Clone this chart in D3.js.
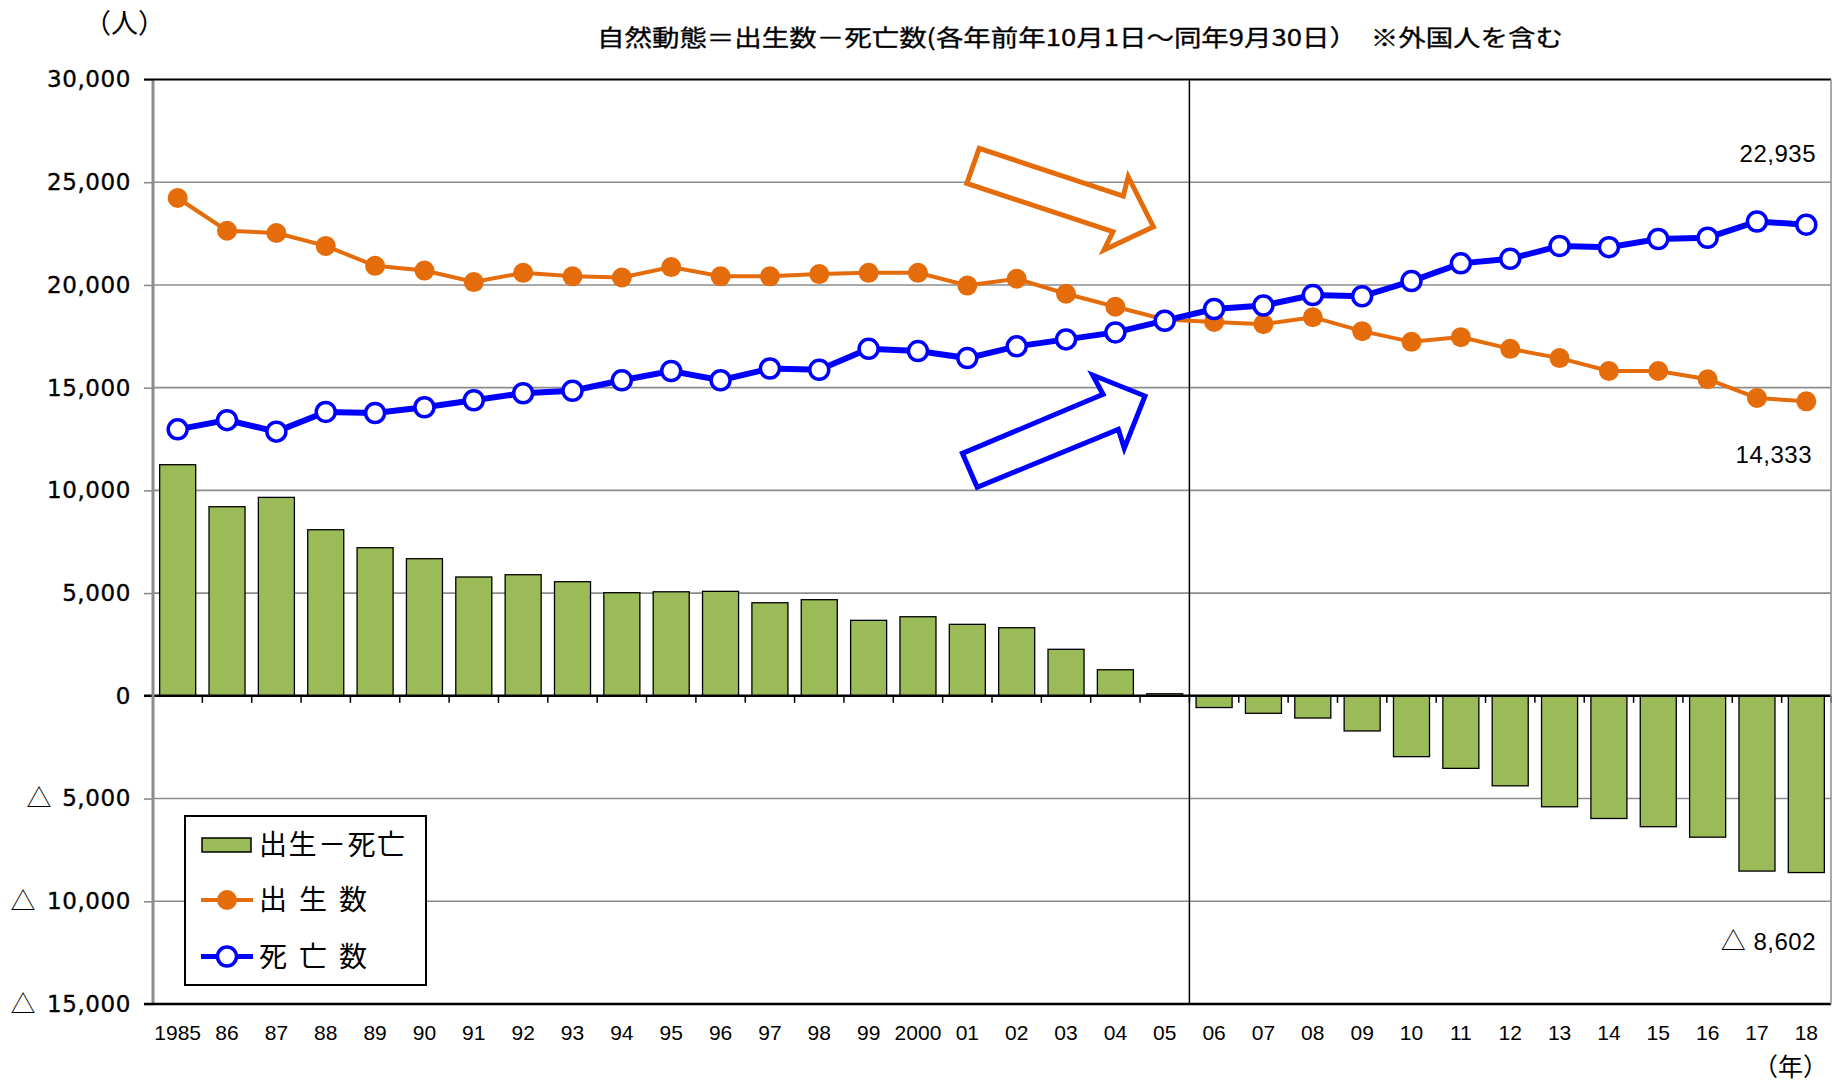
<!DOCTYPE html>
<html><head><meta charset="utf-8">
<script src="https://cdn.jsdelivr.net/npm/d3@7"></script>
<style>body{margin:0;background:#fff}</style></head>
<body><svg id="c" width="1832" height="1085"></svg>
<script>
// ---- data ----
const years = ["1985","86","87","88","89","90","91","92","93","94","95","96","97","98","99","2000","01","02","03","04","05","06","07","08","09","10","11","12","13","14","15","16","17","18"];
const births = [24230,22640,22530,21900,20930,20700,20140,20590,20420,20360,20870,20420,20420,20530,20590,20590,19970,20300,19570,18940,18320,18200,18090,18430,17750,17230,17460,16890,16440,15810,15810,15410,14500,14333];
const deaths = [12970,13420,12860,13820,13770,14050,14390,14730,14850,15360,15810,15360,15930,15870,16890,16780,16440,17010,17350,17690,18260,18830,19000,19510,19450,20190,21050,21270,21900,21840,22240,22300,23090,22935];
const natural = [11250,9205,9660,8085,7210,6675,5785,5895,5555,5020,5065,5085,4530,4680,3675,3850,3480,3315,2265,1270,100,-570,-850,-1080,-1710,-2960,-3530,-4380,-5400,-5970,-6370,-6880,-8530,-8602];
const yTicks = [30000,25000,20000,15000,10000,5000,0,-5000,-10000,-15000];
const legendLabels = ["出生－死亡","出生数","死亡数"];
const titleText = "自然動態＝出生数－死亡数(各年前年10月1日～同年9月30日）　※外国人を含む";
const unitY = "（人）";
const unitX = "（年）";
const endBirth = 14333, endDeath = 22935, endNatural = -8602;
// arrow outlines in [band-step units from left, value]
const arrowBirth = [[16.74,26650],[16.49,24946],[19.45,22591],[19.27,21705],[20.27,22834],[19.76,25268],[19.66,24328]];
const arrowDeath = [[16.40,11804],[16.70,10149],[19.56,12972],[19.68,12047],[20.10,14593],[19.04,15615],[19.25,14676]];

const ORANGE = "#E46C0A", BLUE = "#0000FF", GREEN = "#9BBB59", GRID = "#8c8c8c";
const CJK = "'Noto Sans CJK JP', sans-serif";

const svg = d3.select("#c");
const L = 153, R = 1831, T = 79.5, B = 1004;
const x = d3.scaleBand().domain(years).range([L, R]).paddingInner(0.27).paddingOuter(0.135);
const y = d3.scaleLinear().domain([-15000, 30000]).range([B, T]);
const step = x.step();
const cx = d => x(d) + x.bandwidth() / 2;
const fmt = d3.format(",");

// gridlines
svg.append("g").selectAll("line").data(yTicks.filter(v => v !== 30000 && v !== -15000 && v !== 0))
  .join("line").attr("x1", L).attr("x2", R).attr("y1", d => y(d)).attr("y2", d => y(d))
  .attr("stroke", GRID).attr("stroke-width", 1.6);

// y axis
const ya = svg.append("g").attr("transform", `translate(${L},0)`)
  .call(d3.axisLeft(y).tickValues(yTicks).tickSize(9).tickPadding(13).tickFormat(v => fmt(Math.abs(v))));
ya.select(".domain").remove();
ya.selectAll(".tick line").attr("stroke", GRID).attr("stroke-width", 1.6);
ya.selectAll(".tick text").attr("font-family", "'DejaVu Sans', sans-serif").attr("font-size", 23)
  .attr("letter-spacing", 0.6).attr("fill", "#000").attr("stroke", "#000").attr("stroke-width", 0.35);
ya.selectAll(".tick").filter(v => v < 0).append("text")
  .attr("x", v => v <= -10000 ? -130 : -114).attr("dy", "0.32em").attr("text-anchor", "middle")
  .attr("font-family", CJK).attr("font-size", 25).attr("fill", "#000").text("△");

// bars
svg.append("g").selectAll("rect").data(natural).join("rect")
  .attr("x", (d, i) => x(years[i])).attr("width", x.bandwidth())
  .attr("y", d => y(Math.max(0, d))).attr("height", d => Math.abs(y(d) - y(0)))
  .attr("fill", GREEN).attr("stroke", "#000").attr("stroke-width", 1.3);

// divider between 05 and 06
const divX = x("06") - step * x.paddingInner() / 2;
svg.append("line").attr("x1", divX).attr("x2", divX).attr("y1", T).attr("y2", B)
  .attr("stroke", "#000").attr("stroke-width", 1.5);

// zero line and ticks
svg.append("line").attr("x1", L - 9).attr("x2", R).attr("y1", y(0)).attr("y2", y(0))
  .attr("stroke", "#000").attr("stroke-width", 2.5);
svg.append("g").selectAll("line").data(d3.range(years.length + 1)).join("line")
  .attr("x1", i => L + step * x.paddingOuter() - step * x.paddingInner() / 2 + i * step)
  .attr("x2", i => L + step * x.paddingOuter() - step * x.paddingInner() / 2 + i * step)
  .attr("y1", y(0)).attr("y2", y(0) + 7).attr("stroke", "#000").attr("stroke-width", 1.5);

// frame
svg.append("line").attr("x1", L).attr("x2", L).attr("y1", T).attr("y2", B).attr("stroke", GRID).attr("stroke-width", 3);
svg.append("line").attr("x1", L - 9).attr("x2", R).attr("y1", T).attr("y2", T).attr("stroke", "#000").attr("stroke-width", 2.2);
svg.append("line").attr("x1", L - 9).attr("x2", R).attr("y1", B).attr("y2", B).attr("stroke", "#000").attr("stroke-width", 2.5);
svg.append("line").attr("x1", R).attr("x2", R).attr("y1", T).attr("y2", B).attr("stroke", GRID).attr("stroke-width", 1.5);

// x axis labels
const xa = svg.append("g").attr("transform", `translate(0,${B})`)
  .call(d3.axisBottom(x).tickSize(0).tickPadding(21));
xa.select(".domain").remove();
xa.selectAll(".tick text").attr("font-family", "'Liberation Sans', Arial, sans-serif").attr("font-size", 21).attr("fill", "#000");

// lines
const line = d3.line().x((d, i) => cx(years[i])).y(d => y(d));
svg.append("path").datum(births).attr("d", line).attr("fill", "none").attr("stroke", ORANGE).attr("stroke-width", 4);
svg.append("path").datum(deaths).attr("d", line).attr("fill", "none").attr("stroke", BLUE).attr("stroke-width", 6);
svg.append("g").selectAll("circle").data(births).join("circle")
  .attr("cx", (d, i) => cx(years[i])).attr("cy", d => y(d)).attr("r", 10).attr("fill", ORANGE);
svg.append("g").selectAll("circle").data(deaths).join("circle")
  .attr("cx", (d, i) => cx(years[i])).attr("cy", d => y(d)).attr("r", 9.5).attr("fill", "#fff")
  .attr("stroke", BLUE).attr("stroke-width", 3.5);

// arrows
const arrowPath = pts => "M" + pts.map(p => [L + p[0] * step, y(p[1])].join(",")).join("L") + "Z";
svg.append("path").attr("d", arrowPath(arrowBirth)).attr("fill", "#fff").attr("stroke", ORANGE).attr("stroke-width", 5).attr("stroke-linejoin", "miter");
svg.append("path").attr("d", arrowPath(arrowDeath)).attr("fill", "#fff").attr("stroke", BLUE).attr("stroke-width", 5).attr("stroke-linejoin", "miter");

// end value labels
const numFont = "'Liberation Sans', Arial, sans-serif";
const xEnd = R - 15;
svg.append("text").attr("x", xEnd).attr("y", y(endDeath) - 63).attr("text-anchor", "end")
  .attr("font-family", numFont).attr("font-size", 24).attr("letter-spacing", 0.5).text(fmt(endDeath));
svg.append("text").attr("x", xEnd - 4).attr("y", y(endBirth) + 62).attr("text-anchor", "end")
  .attr("font-family", numFont).attr("font-size", 24).attr("letter-spacing", 0.5).text(fmt(endBirth));
const nl = svg.append("text").attr("x", xEnd).attr("y", y(endNatural) + 77).attr("text-anchor", "end")
  .attr("font-family", numFont).attr("font-size", 24).attr("letter-spacing", 0.5);
nl.append("tspan").attr("font-family", CJK).attr("font-size", 25).text("△");
nl.append("tspan").text(" " + fmt(-endNatural));

// legend
const lg = svg.append("g");
lg.append("rect").attr("x", 185).attr("y", 816).attr("width", 241).attr("height", 169)
  .attr("fill", "#fff").attr("stroke", "#000").attr("stroke-width", 2);
const rows = [845, 900, 956.5];
lg.append("rect").attr("x", 202).attr("y", rows[0] - 7).attr("width", 49).attr("height", 14)
  .attr("fill", GREEN).attr("stroke", "#000").attr("stroke-width", 1.5);
lg.append("line").attr("x1", 201).attr("x2", 253).attr("y1", rows[1]).attr("y2", rows[1]).attr("stroke", ORANGE).attr("stroke-width", 4);
lg.append("circle").attr("cx", 227).attr("cy", rows[1]).attr("r", 10).attr("fill", ORANGE);
lg.append("line").attr("x1", 201).attr("x2", 253).attr("y1", rows[2]).attr("y2", rows[2]).attr("stroke", BLUE).attr("stroke-width", 5);
lg.append("circle").attr("cx", 227).attr("cy", rows[2]).attr("r", 9.5).attr("fill", "#fff").attr("stroke", BLUE).attr("stroke-width", 3.5);
legendLabels.forEach((t, i) => {
  lg.append("text").attr("x", 259).attr("y", rows[i] + 10).attr("font-family", CJK).attr("font-size", 28)
    .attr("letter-spacing", i === 0 ? 1.5 : 12).attr("fill", "#000").text(t);
});

// titles
svg.append("text").attr("x", 597).attr("y", 46).attr("font-family", CJK).attr("font-size", 23)
  .attr("stroke", "#000").attr("stroke-width", 0.3)
  .attr("textLength", 966).attr("lengthAdjust", "spacingAndGlyphs").text(titleText);
svg.append("text").attr("x", 84).attr("y", 33).attr("font-family", CJK).attr("font-size", 27).text(unitY);
svg.append("text").attr("x", 1828).attr("y", 1076).attr("text-anchor", "end").attr("font-family", CJK).attr("font-size", 25).text(unitX);
</script></body></html>
